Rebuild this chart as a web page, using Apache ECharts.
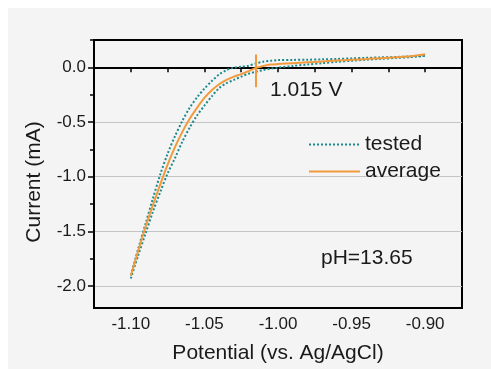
<!DOCTYPE html>
<html><head><meta charset="utf-8">
<script src="https://cdn.jsdelivr.net/npm/echarts@6/dist/echarts.min.js"></script>
<style>html,body{margin:0;padding:0;background:#fff}#c{width:491px;height:369px}</style>
</head><body><div id="c"></div>
<script>
// Potential (V vs Ag/AgCl)
const potential = [-1.100,-1.095,-1.090,-1.085,-1.080,-1.075,-1.070,-1.065,-1.060,-1.055,-1.050,-1.045,-1.040,-1.035,-1.030,-1.025,-1.020,-1.015,-1.010,-1.005,-1.000,-0.990,-0.980,-0.970,-0.960,-0.950,-0.940,-0.930,-0.920,-0.910,-0.900];
// Current (mA)
const average  = [-1.905,-1.68,-1.46,-1.26,-1.07,-0.89,-0.73,-0.59,-0.47,-0.37,-0.28,-0.21,-0.155,-0.115,-0.085,-0.062,-0.035,-0.005,0.012,0.025,0.030,0.038,0.046,0.054,0.062,0.069,0.076,0.084,0.092,0.101,0.120];
const testedA  = [-1.90,-1.66,-1.43,-1.20,-0.98,-0.79,-0.63,-0.49,-0.37,-0.275,-0.195,-0.125,-0.065,-0.025,-0.003,0.005,0.015,0.035,0.052,0.060,0.066,0.068,0.070,0.073,0.077,0.082,0.087,0.091,0.095,0.100,0.108];
const testedB  = [-1.93,-1.72,-1.52,-1.32,-1.14,-0.97,-0.83,-0.68,-0.55,-0.44,-0.35,-0.265,-0.19,-0.145,-0.115,-0.085,-0.058,-0.040,-0.025,-0.012,-0.003,0.012,0.026,0.038,0.050,0.060,0.070,0.078,0.086,0.094,0.105];
const xMajor = [-1.10,-1.05,-1.00,-0.95,-0.90];
const xTicks = [-1.125,-1.10,-1.075,-1.05,-1.025,-1.00,-0.975,-0.95,-0.925,-0.90,-0.875];
const yMajor = [0.0,-0.5,-1.0,-1.5,-2.0];
const yMinor = [0.25,-0.25,-0.75,-1.25,-1.75];
const onsetV = -1.015;
const onsetRange = [0.117,-0.183];

const teal = '#1c8a8d', orange = '#f39a3d';
const font = 'Liberation Sans, Arial, sans-serif';
const pair = ys => potential.map((x,i)=>[x, ys[i]]);

const chart = echarts.init(document.getElementById('c'), null, {renderer:'canvas'});
chart.setOption({
  animation:false,
  backgroundColor:'#ffffff',
  textStyle:{fontFamily:font},
  graphic:[
    {type:'rect', z:-10, shape:{x:8,y:8,width:483,height:361}, style:{fill:'#f4f4f4'}},
    {type:'text', left:270, top:80, style:{text:'1.015 V', font:'21px '+font, fill:'#1a1a1a'}},
    {type:'text', left:321, top:248, style:{text:'pH=13.65', font:'21px '+font, fill:'#1a1a1a'}}
  ],
  grid:{left:94, top:40, right:29, bottom:58, show:true, borderColor:'#000', borderWidth:2, backgroundColor:'transparent'},
  legend:{
    orient:'vertical', left:303, top:129, itemWidth:51, itemHeight:14, itemGap:6,
    data:['tested','average'],
    itemStyle:{opacity:0},
    textStyle:{fontSize:21, color:'#1a1a1a', fontFamily:font}
  },
  xAxis:{
    type:'value', min:-1.125, max:-0.875,
    name:'Potential (vs. Ag/AgCl)', nameLocation:'middle', nameGap:35,
    nameTextStyle:{fontSize:21, color:'#1a1a1a'},
    axisLine:{lineStyle:{color:'#000', width:2}},
    axisTick:{show:true, length:5, customValues:xTicks, lineStyle:{color:'#000', width:1.5}},
    axisLabel:{customValues:xMajor, formatter:v=>v.toFixed(2), fontSize:17, color:'#1a1a1a', margin:8},
    splitLine:{show:false}
  },
  yAxis:[{
    type:'value', min:-2.2, max:0.25,
    name:'Current (mA)', nameLocation:'middle', nameGap:49,
    nameTextStyle:{fontSize:21, color:'#1a1a1a', padding:[0,16,0,0]},
    axisLine:{show:true, lineStyle:{color:'#000', width:2}},
    axisTick:{show:true, length:6, customValues:yMajor, lineStyle:{color:'#000', width:1.5}},
    axisLabel:{customValues:yMajor, formatter:v=>v.toFixed(1), fontSize:17, color:'#1a1a1a', margin:8},
    splitLine:{show:true, lineStyle:{color:'#c4c4c4', width:1}}
  },{
    type:'value', min:-2.2, max:0.25, position:'left',
    axisLine:{show:false},
    axisTick:{show:true, length:4, customValues:yMinor, lineStyle:{color:'#000', width:1.5}},
    axisLabel:{show:false},
    splitLine:{show:false}
  }],
  series:[
    {name:'tested', type:'line', data:pair(testedA), symbol:'none', smooth:0.3, z:3,
      lineStyle:{color:teal, width:2, type:[2,2]}, itemStyle:{color:teal}},
    {name:'tested', type:'line', data:pair(testedB), symbol:'none', smooth:0.3, z:3,
      lineStyle:{color:teal, width:2, type:[2,2]}, itemStyle:{color:teal}},
    {name:'average', type:'line', data:pair(average), symbol:'none', smooth:0.3, z:4,
      lineStyle:{color:orange, width:2}, itemStyle:{color:orange},
      markLine:{silent:true, symbol:'none', label:{show:false},
        lineStyle:{color:orange, width:2, type:'solid'},
        data:[[{coord:[onsetV, onsetRange[0]]},{coord:[onsetV, onsetRange[1]]}]]}}
  ]
});
</script></body></html>
